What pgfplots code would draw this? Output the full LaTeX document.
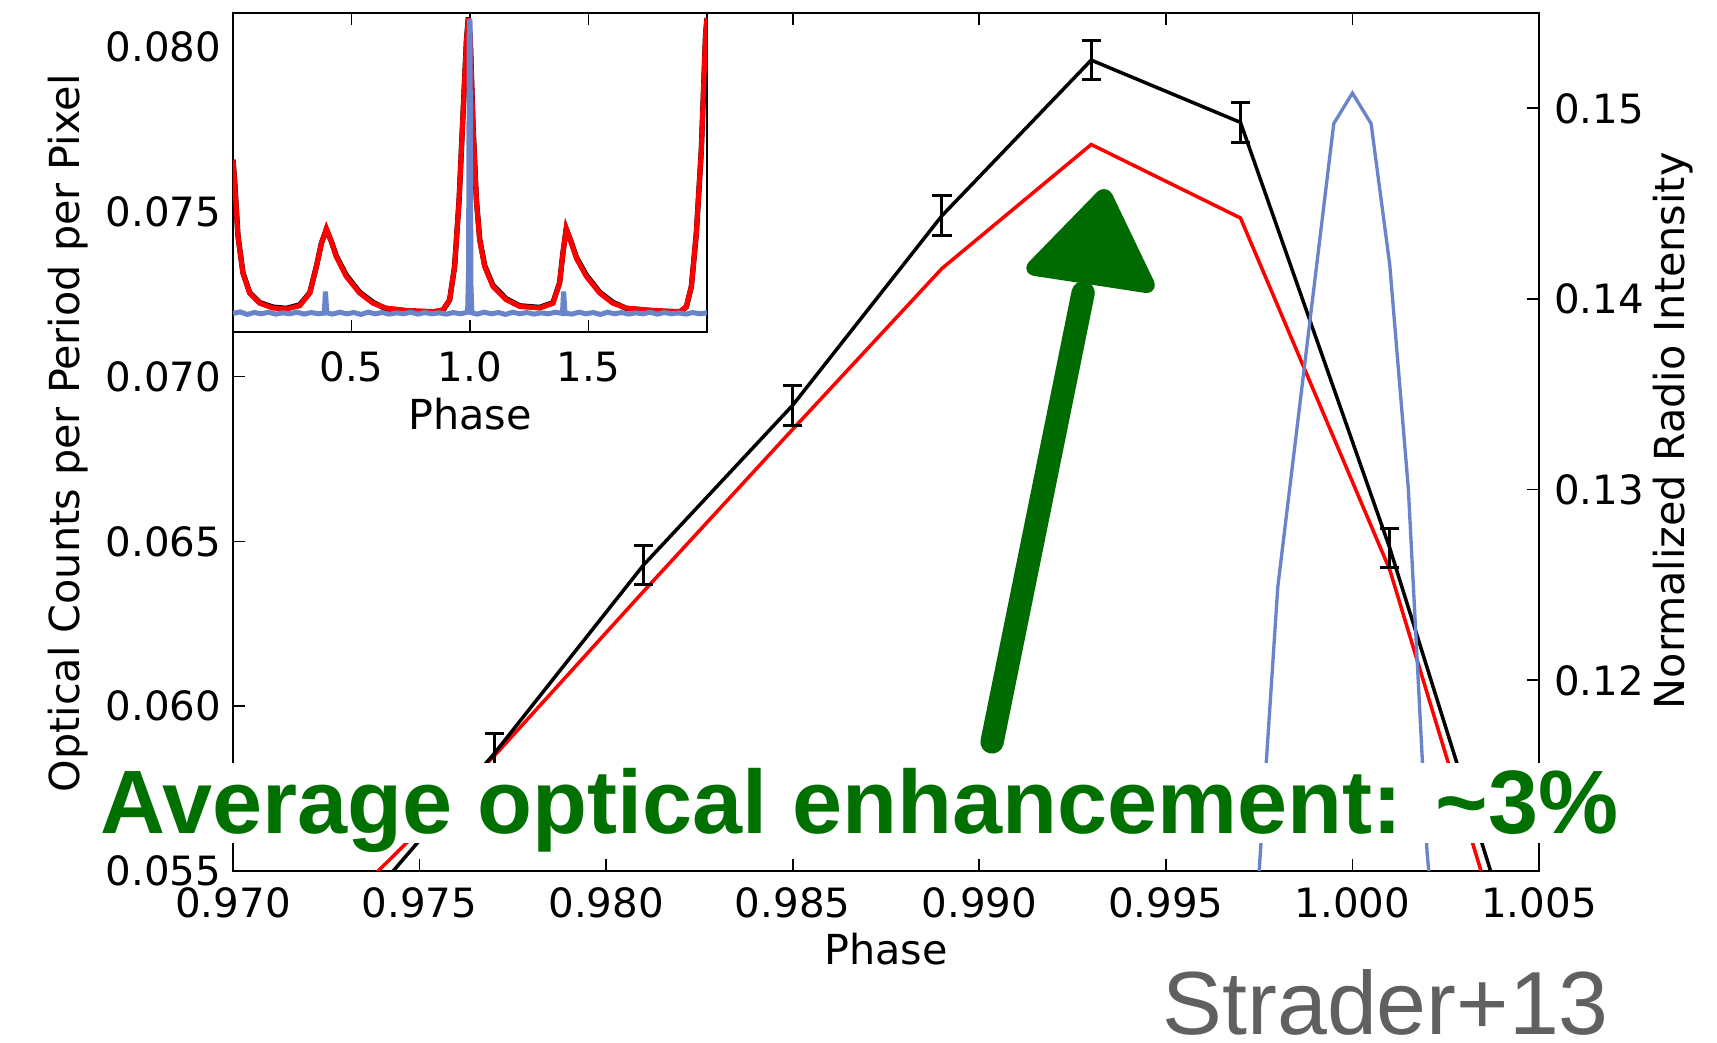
\documentclass[border=0pt]{standalone}
\usepackage{pgfplots}
\pgfplotsset{compat=1.18}
\usepackage{pgfplotstable}
\usepackage{fontspec}
\setmainfont{DejaVu Sans}
\newfontfamily\annfont{Liberation Sans}
\definecolor{rblue}{HTML}{6A84CC}
\definecolor{agreen}{HTML}{007000}
\definecolor{arrgreen}{HTML}{006B00}
\definecolor{agray}{HTML}{606060}
\newcommand{\tfont}{\fontsize{12.1}{14}\selectfont}
\newcommand{\lfont}{\fontsize{12.4}{14}\selectfont}

\pgfplotstableread{
x y e
0.973 0.0533 0.0006
0.977 0.05856 0.0006
0.981 0.06428 0.0006
0.985 0.06913 0.0006
0.989 0.07488 0.0006
0.993 0.0796 0.0006
0.997 0.07771 0.0006
1.001 0.0648 0.0006
1.005 0.0503 0.0006
}\blackdata

\pgfplotstableread{
x y
0.973 0.0540
0.977 0.05849
0.981 0.06348
0.985 0.0684
0.989 0.07328
0.993 0.07704
0.997 0.07481
1.001 0.06414
1.005 0.0492
}\reddata

\pgfplotstableread{
x y
0.9970 0.095
0.9975 0.110
0.9980 0.1249
0.9995 0.1492
1.0000 0.1508
1.0005 0.1492
1.0010 0.1418
1.0015 0.1300
1.0020 0.111
1.0025 0.100
}\bluedata

\pgfplotstableread{
x y
0.000 0.54
0.007 0.470
0.021 0.300
0.042 0.184
0.070 0.122
0.113 0.090
0.169 0.075
0.225 0.072
0.281 0.082
0.324 0.122
0.352 0.205
0.373 0.278
0.394 0.324
0.415 0.283
0.436 0.236
0.478 0.174
0.534 0.122
0.591 0.090
0.647 0.075
0.731 0.068
0.844 0.064
0.886 0.070
0.914 0.101
0.935 0.205
0.954 0.413
0.970 0.673
0.985 0.912
0.993 0.984
1.001 0.922
1.013 0.641
1.027 0.413
1.041 0.288
1.062 0.205
1.097 0.142
1.153 0.101
1.210 0.080
1.294 0.075
1.350 0.090
1.378 0.153
1.392 0.246
1.406 0.324
1.428 0.278
1.449 0.231
1.491 0.174
1.547 0.122
1.603 0.090
1.660 0.075
1.772 0.068
1.885 0.064
1.913 0.080
1.934 0.142
1.955 0.309
1.976 0.569
1.994 0.932
2.000 0.984
}\insetred

\pgfplotstableread{
x y
0.000 0.54
0.007 0.472
0.021 0.302
0.042 0.186
0.070 0.124
0.113 0.092
0.169 0.078
0.225 0.074
0.281 0.085
0.324 0.123
0.352 0.206
0.373 0.278
0.394 0.322
0.415 0.284
0.436 0.238
0.478 0.178
0.534 0.125
0.591 0.093
0.647 0.072
0.731 0.066
0.844 0.060
0.886 0.068
0.914 0.100
0.935 0.205
0.954 0.413
0.970 0.673
0.985 0.913
0.993 0.986
1.001 0.923
1.013 0.642
1.027 0.415
1.041 0.291
1.062 0.208
1.097 0.146
1.153 0.104
1.210 0.082
1.294 0.077
1.350 0.092
1.378 0.154
1.392 0.247
1.406 0.323
1.428 0.280
1.449 0.234
1.491 0.178
1.547 0.125
1.603 0.093
1.660 0.074
1.772 0.066
1.885 0.061
1.913 0.079
1.934 0.142
1.955 0.309
1.976 0.569
1.994 0.932
2.000 0.984
}\insetblack

\pgfplotstableread{
x y
0.000 0.058
0.030 0.063
0.060 0.055
0.090 0.061
0.120 0.057
0.150 0.062
0.180 0.056
0.210 0.060
0.240 0.057
0.270 0.062
0.300 0.056
0.330 0.061
0.360 0.057
0.385 0.059
0.390 0.127
0.396 0.060
0.420 0.056
0.450 0.062
0.480 0.057
0.510 0.061
0.540 0.055
0.570 0.062
0.600 0.057
0.630 0.061
0.660 0.056
0.690 0.060
0.720 0.057
0.750 0.062
0.780 0.056
0.810 0.061
0.840 0.057
0.870 0.060
0.900 0.056
0.930 0.061
0.960 0.057
0.990 0.062
0.994 0.200
0.997 0.974
1.000 0.974
1.004 0.150
1.008 0.060
1.030 0.056
1.060 0.062
1.090 0.057
1.120 0.061
1.150 0.055
1.180 0.062
1.210 0.057
1.240 0.061
1.270 0.056
1.300 0.060
1.330 0.057
1.360 0.062
1.390 0.058
1.395 0.127
1.401 0.059
1.430 0.056
1.460 0.062
1.490 0.057
1.520 0.061
1.550 0.055
1.580 0.062
1.610 0.057
1.640 0.061
1.670 0.056
1.700 0.060
1.730 0.057
1.760 0.062
1.790 0.056
1.820 0.061
1.850 0.057
1.880 0.060
1.910 0.056
1.940 0.061
1.970 0.057
2.000 0.060
}\insetblue

\pgfplotsset{
  every tick label/.append style={font=\tfont},
  every axis label/.append style={font=\lfont},
  tick align=inside,
  major tick length=3.6pt,
  every tick/.style={black, line width=0.5pt},
  axis line style={line width=0.8pt},
}

\begin{document}
\begin{tikzpicture}
\useasboundingbox (0,0) rectangle (515.1pt,312.9pt);

% main axis (optical)
\begin{axis}[
  at={(69.9pt,51.6pt)}, anchor=south west,
  scale only axis, width=391.8pt, height=257.4pt,
  xmin=0.970, xmax=1.005, ymin=0.055, ymax=0.08103,
  xtick={0.970,0.975,0.980,0.985,0.990,0.995,1.000,1.005},
  xticklabels={0.970,0.975,0.980,0.985,0.990,0.995,1.000,1.005},
  ytick={0.055,0.060,0.065,0.070,0.075,0.080},
  yticklabels={0.055,0.060,0.065,0.070,0.075,0.080},
  xtick pos=both, ytick pos=left,
  xticklabel pos=lower, yticklabel pos=left,
  x tick label style={yshift=-1.5pt},
  xlabel={Phase}, ylabel={Optical Counts per Period per Pixel},
  xlabel style={at={(axis description cs:0.5,0)}, anchor=center, yshift=-23.4pt},
  ylabel style={at={(axis description cs:-0.1263,0.51)}, anchor=center},
]
\addplot[red, line width=1.05pt] table[x=x,y=y] {\reddata};
\addplot[black, line width=1.05pt,
  error bars/.cd, y dir=both, y explicit,
  error bar style={line width=0.9pt},
  error mark options={rotate=90, mark size=2.9pt, line width=0.9pt}]
  table[x=x,y=y,y error=e] {\blackdata};
% hand-drawn style arrow annotation
\draw[arrgreen, line width=7pt, line cap=round]
  (axis cs:0.990343,0.058914) -- (axis cs:0.992783,0.072537);
\fill[arrgreen, draw=arrgreen, line width=3pt, line join=round, rounded corners=2pt]
  (axis cs:0.991309,0.073234) -- (axis cs:0.993373,0.075631) -- (axis cs:0.994633,0.072658) -- cycle;
\end{axis}

% right axis (radio)
\begin{axis}[
  at={(69.9pt,51.6pt)}, anchor=south west,
  scale only axis, width=391.8pt, height=257.4pt,
  xmin=0.970, xmax=1.005, ymin=0.110, ymax=0.155,
  axis x line=none, axis y line*=right,
  ytick={0.12,0.13,0.14,0.15},
  yticklabels={0.12,0.13,0.14,0.15},
  y tick label style={xshift=1pt},
  ylabel={Normalized Radio Intensity},
  ylabel style={at={(axis description cs:1.1026,0.513)}, anchor=center},
]
\addplot[rblue, line width=1.0pt] table[x=x,y=y] {\bluedata};
\end{axis}

% inset
\begin{axis}[
  at={(69.9pt,213.3pt)}, anchor=south west,
  scale only axis, width=142.2pt, height=95.7pt,
  xmin=0, xmax=2, ymin=0, ymax=1,
  axis background/.style={fill=white},
  xtick={0.5,1.0,1.5}, xticklabels={0.5,1.0,1.5},
  xtick pos=both, xticklabel pos=lower, ytick=\empty,
  x tick label style={yshift=-2.4pt},
  xlabel={Phase},
  xlabel style={at={(axis description cs:0.5,0)}, anchor=center, yshift=-24.6pt},
]
\addplot[black, line width=1.6pt] table[x=x,y=y] {\insetblack};
\addplot[red, line width=1.5pt] table[x=x,y=y] {\insetred};
\addplot[rblue, line width=1.5pt] table[x=x,y=y] {\insetblue};
\end{axis}

% annotation text box
\fill[white] (28.8pt,60pt) rectangle (485.4pt,84pt);
\node[anchor=base west, inner sep=0pt, text=agreen, font=\annfont\bfseries\fontsize{27}{30}\selectfont]
  at (30pt,62.7pt) {Average optical enhancement: \textasciitilde3\%};

\node[anchor=base west, inner sep=0pt, text=agray, font=\annfont\fontsize{26.9}{30}\selectfont]
  at (348.6pt,2.4pt) {Strader+13};
\end{tikzpicture}
\end{document}
